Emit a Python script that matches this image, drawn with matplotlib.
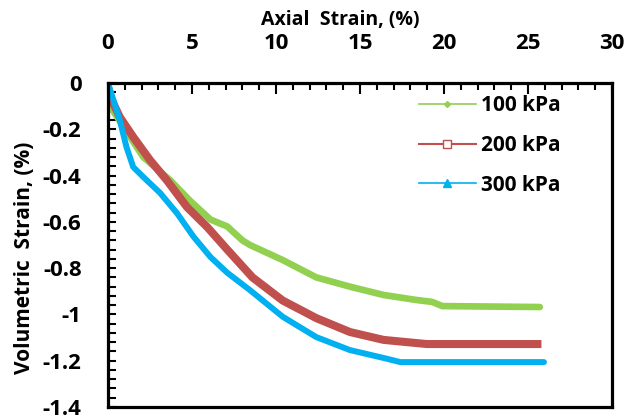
import matplotlib
matplotlib.use('Agg')
import matplotlib.pyplot as plt
from matplotlib.lines import Line2D
from matplotlib.ticker import MultipleLocator

plt.rcParams['font.family'] = ['Open Sans', 'DejaVu Sans']

# data (axial strain %, volumetric strain %)
x_100 = [0.0, 0.3, 2.1, 3.7, 4.9, 6.1, 7.1, 8.0, 8.45, 10.4, 12.4, 14.4, 16.4, 18.4, 19.3, 19.9, 25.7]
y_100 = [0.0, -0.12, -0.32, -0.42, -0.51, -0.59, -0.62, -0.68, -0.70, -0.765, -0.84, -0.88, -0.916, -0.938, -0.946, -0.964, -0.968]

x_200 = [0.0, 0.7, 1.5, 2.5, 3.5, 4.7, 5.9, 7.1, 8.6, 10.4, 12.4, 14.4, 16.4, 18.4, 19.0, 25.8]
y_200 = [-0.04, -0.147, -0.233, -0.333, -0.42, -0.536, -0.622, -0.72, -0.84, -0.94, -1.016, -1.076, -1.11, -1.124, -1.128, -1.128]

x_300 = [0.0, 0.7, 1.1, 1.5, 2.1, 3.1, 4.1, 5.1, 6.1, 7.1, 8.45, 10.4, 12.4, 14.4, 16.4, 17.4, 25.95]
y_300 = [0.0, -0.16, -0.277, -0.363, -0.406, -0.475, -0.562, -0.665, -0.752, -0.82, -0.895, -1.01, -1.098, -1.154, -1.188, -1.206, -1.206]

labels = ['100 kPa', '200 kPa', '300 kPa']
green = '#92D050'
red = '#C0504D'
blue = '#00B0F0'

fig = plt.figure(figsize=(6.39, 4.18), dpi=100)
ax = fig.add_axes([108/639, 11/418, 504/639, 324/418])

ax.plot(x_100, y_100, color=green, lw=4.8, solid_capstyle='round', solid_joinstyle='round')
ax.plot(x_200, y_200, color=red, lw=5.8, solid_capstyle='butt', solid_joinstyle='round')
ax.plot(x_300, y_300, color=blue, lw=4.3, solid_capstyle='round', solid_joinstyle='round')

ax.set_xlim(0, 30)
ax.set_ylim(-1.4, 0)
ax.xaxis.tick_top()
ax.xaxis.set_label_position('top')
ax.xaxis.set_major_locator(MultipleLocator(5))
ax.xaxis.set_minor_locator(MultipleLocator(1))
ax.yaxis.set_minor_locator(MultipleLocator(0.04))
ax.set_yticks([0, -0.2, -0.4, -0.6, -0.8, -1.0, -1.2, -1.4])
ax.set_yticklabels(['0', '-0.2', '-0.4', '-0.6', '-0.8', '-1', '-1.2', '-1.4'])

ax.tick_params(axis='x', which='major', direction='in', length=8, width=1.5, pad=21,
               labelsize=16, top=True, bottom=False)
ax.tick_params(axis='x', which='minor', direction='in', length=5, width=1.5, top=True, bottom=False)
ax.tick_params(axis='y', which='major', direction='in', length=6, width=1.5, pad=19,
               labelsize=16, left=True, right=False)
ax.tick_params(axis='y', which='minor', direction='in', length=6, width=1.5, left=True, right=False)
for lab in ax.get_xticklabels() + ax.get_yticklabels():
    lab.set_fontweight('bold')

for s in ax.spines.values():
    s.set_linewidth(2.3)

ax.set_xlabel('Axial  Strain, (%)', fontsize=14, fontweight='bold')
ax.xaxis.set_label_coords(0.46, 1.165)
ax.xaxis.label.set_va('bottom')
ax.set_ylabel('Volumetric  Strain, (%)', fontsize=15, fontweight='bold')
ax.yaxis.label.set_va('center')
ax.yaxis.set_label_coords(-0.165, 0.46)

handles = [
    Line2D([], [], color=green, lw=1.2, marker='D', markersize=3, markerfacecolor=green),
    Line2D([], [], color=red, lw=1.5, marker='s', markersize=6, markerfacecolor='white',
           markeredgecolor=red),
    Line2D([], [], color=blue, lw=1.2, marker='^', markersize=6, markerfacecolor=blue),
]
leg = ax.legend(handles, labels, loc='upper right', bbox_to_anchor=(0.935, 1.02), frameon=False,
                fontsize=15, handlelength=2.7, handletextpad=0.25, labelspacing=0.9)
for t in leg.get_texts():
    t.set_fontweight('bold')

fig.savefig('out.png', dpi=100)
